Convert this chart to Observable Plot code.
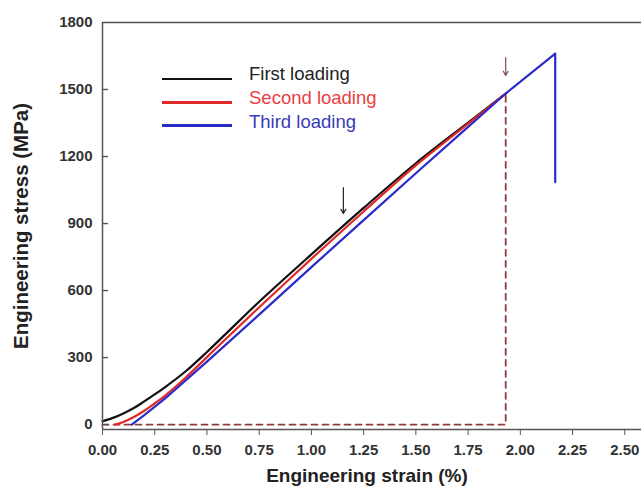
<!DOCTYPE html>
<html>
<head>
<meta charset="utf-8">
<script src="https://cdn.jsdelivr.net/npm/d3@7"></script>
<script src="https://cdn.jsdelivr.net/npm/@observablehq/plot@0.6"></script>
<style>
  body { margin: 0; background: #fff; }
  #wrap { position: relative; width: 641px; height: 490px; font-family: "Liberation Sans", Arial, sans-serif; }
  .lg-line { position: absolute; height: 2.5px; }
  .lg-text { position: absolute; font-size: 18.5px; line-height: 21px; white-space: nowrap; }
</style>
</head>
<body>
<div id="wrap"></div>
<script>
// ---- data ----
const seriesNames = ["First loading", "Second loading", "Third loading"];
const seriesColors = ["#111111", "#e02828", "#2b2bc8"];
const legendTextColors = ["#222222", "#e8403f", "#3a3ab8"];

const firstStrain = [0, 0.05, 0.1, 0.15, 0.2, 0.25, 0.3, 0.4, 0.5, 0.6, 0.75, 1.0, 1.25, 1.5, 1.75, 1.93];
const firstStress = [15, 30, 50, 74, 104, 135, 168, 240, 325, 415, 550, 762, 970, 1170, 1352, 1482];

const secondStrain = [0.06, 0.1, 0.15, 0.2, 0.25, 0.3, 0.4, 0.5, 0.6, 0.75, 1.0, 1.25, 1.5, 1.75, 1.93];
const secondStress = [0, 12, 34, 62, 95, 130, 212, 302, 392, 525, 742, 954, 1160, 1347, 1482];

const thirdStrain = [0.14, 0.2, 0.3, 0.5, 0.75, 1.0, 1.25, 1.5, 1.75, 1.93, 2.167, 2.167];
const thirdStress = [0, 42, 117, 282, 492, 705, 915, 1125, 1333, 1482, 1661, 1085];

// dashed guide (unloading reference)
const guideStrain = [0, 1.93, 1.93];
const guideStress = [0, 0, 1482];

// arrows
const arrowStrain = [1.153, 1.93];
const arrowFrom = [1061, 1643];
const arrowTo = [945, 1563];
const arrowColors = ["#222222", "#8a4a4a"];

const xTicks = [0, 0.25, 0.5, 0.75, 1.0, 1.25, 1.5, 1.75, 2.0, 2.25, 2.5];
const yTicks = [0, 300, 600, 900, 1200, 1500, 1800];
const xDomain = [0, 2.58];
const yDomain = [-22, 1800];
const xLabel = "Engineering strain (%)";
const yLabel = "Engineering stress (MPa)";

// ---- layout ----
const W = 641, H = 490, ML = 102, MR = 0, MT = 22, MB = 61;
const tickLenPx = 6;
const tickLenData = tickLenPx * (xDomain[1] - xDomain[0]) / (W - ML - MR);

// ---- build tables ----
const toRows = (xs, ys, name) => xs.map((x, j) => ({series: name, strain: x, stress: ys[j]}));
const smoothCurves = [
  ...toRows(firstStrain, firstStress, seriesNames[0]),
  ...toRows(secondStrain, secondStress, seriesNames[1])
];
const thirdCurve = toRows(thirdStrain, thirdStress, seriesNames[2]);
const guide = guideStrain.map((x, i) => ({strain: x, stress: guideStress[i]}));
const arrows = arrowStrain.map((x, i) => ({x, y1: arrowFrom[i], y2: arrowTo[i], c: arrowColors[i]}));
const innerYTicks = yTicks.filter(t => t < yDomain[1]);

const axisColor = "#555555";

const chart = Plot.plot({
  width: W,
  height: H,
  marginLeft: ML,
  marginRight: MR,
  marginTop: MT,
  marginBottom: MB,
  style: {fontFamily: "'Liberation Sans', Arial, sans-serif", fontSize: "15px", fontWeight: "bold", color: "#333", background: "#fff"},
  x: {domain: xDomain},
  y: {domain: yDomain},
  color: {domain: seriesNames, range: seriesColors},
  marks: [
    Plot.line(guide, {x: "strain", y: "stress", stroke: "#8e3a3a", strokeWidth: 1.8, strokeDasharray: "6,5"}),
    Plot.line(smoothCurves, {x: "strain", y: "stress", z: "series", stroke: "series", strokeWidth: 2.2, curve: "catmull-rom"}),
    Plot.line(thirdCurve, {x: "strain", y: "stress", stroke: "series", strokeWidth: 2.2}),
    Plot.arrow(arrows, {x: "x", y1: "y1", y2: "y2", stroke: "c", strokeWidth: 1.2, headLength: 6}),
    Plot.ruleX([xDomain[0]], {stroke: axisColor, strokeWidth: 1.5}),
    Plot.ruleY([yDomain[0]], {stroke: axisColor, strokeWidth: 1.5}),
    Plot.ruleY([yDomain[1]], {stroke: axisColor, strokeWidth: 1.5}),
    // inward tick marks on the left axis
    Plot.ruleY(innerYTicks, {y: d => d, x1: xDomain[0], x2: xDomain[0] + tickLenData, stroke: axisColor, strokeWidth: 1.4}),
    Plot.axisX({ticks: xTicks, tickFormat: d3.format(".2f"), tickSize: 6, tickPadding: 9, label: null, stroke: axisColor, fill: "#333"}),
    Plot.axisY({ticks: yTicks, tickFormat: d3.format("d"), tickSize: 0, tickPadding: 10, label: null, fill: "#333"}),
    Plot.text([xLabel], {frameAnchor: "bottom", dx: -5, dy: 52, text: d => d, fontSize: 19, fontWeight: "bold", fill: "#222"}),
    Plot.text([yLabel], {frameAnchor: "left", textAnchor: "middle", dx: -81.5, dy: 0, rotate: -90, text: d => d, fontSize: 20.5, fontWeight: "bold", fill: "#222"})
  ]
});

const wrap = document.getElementById("wrap");
wrap.appendChild(chart);

// legend overlay
const lineY = [79, 102.7, 125.7];
const baseY = [80, 104, 127.7];
seriesNames.forEach((name, i) => {
  const ln = document.createElement("div");
  ln.className = "lg-line";
  ln.style.left = "162px";
  ln.style.width = "70px";
  ln.style.top = (lineY[i] - 1.25) + "px";
  ln.style.background = seriesColors[i];
  wrap.appendChild(ln);
  const tx = document.createElement("div");
  tx.className = "lg-text";
  tx.style.left = "249px";
  tx.style.top = (baseY[i] - 16.6) + "px";
  tx.style.color = legendTextColors[i];
  tx.textContent = name;
  wrap.appendChild(tx);
});
</script>
</body>
</html>
